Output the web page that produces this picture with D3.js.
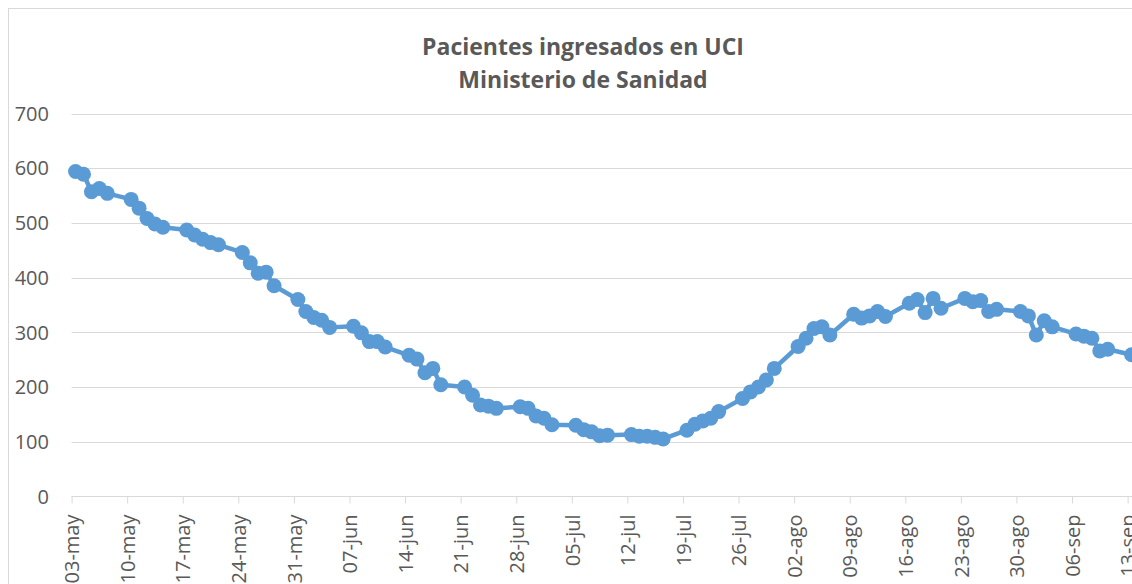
<!DOCTYPE html>
<html>
<head>
<meta charset="utf-8">
<script src="https://cdn.jsdelivr.net/npm/d3@7"></script>
<style>
  body { margin: 0; background: #fff; overflow: hidden; }
  svg { display: block; font-family: "Open Sans", sans-serif; }
  .grid line { stroke: #d9d9d9; stroke-width: 1; }
  .tlabel { fill: #595959; font-size: 20px; }
</style>
</head>
<body>
<svg id="chart" width="1132" height="584"></svg>
<script>
// fechas (2020) y pacientes en UCI
var fechas = [
  "05-03","05-04","05-05","05-06","05-07",
  "05-10","05-11","05-12","05-13","05-14",
  "05-17","05-18","05-19","05-20","05-21",
  "05-24","05-25","05-26","05-27","05-28",
  "05-31","06-01","06-02","06-03","06-04",
  "06-07","06-08","06-09","06-10","06-11",
  "06-14","06-15","06-16","06-17","06-18",
  "06-21","06-22","06-23","06-24","06-25",
  "06-28","06-29","06-30","07-01","07-02",
  "07-05","07-06","07-07","07-08","07-09",
  "07-12","07-13","07-14","07-15","07-16",
  "07-19","07-20","07-21","07-22","07-23",
  "07-26","07-27","07-28","07-29","07-30",
  "08-02","08-03","08-04","08-05","08-06",
  "08-09","08-10","08-11","08-12","08-13",
  "08-16","08-17","08-18","08-19","08-20",
  "08-23","08-24","08-25","08-26","08-27",
  "08-30","08-31","09-01","09-02","09-03",
  "09-06","09-07","09-08","09-09","09-10",
  "09-13"
];
var pacientes = [
  594, 589, 557, 563, 554,
  543, 527, 508, 498, 492,
  487, 478, 470, 464, 460,
  446, 427, 408, 410, 385,
  360, 338, 327, 322, 309,
  311, 299, 283, 283, 273,
  258, 251, 226, 234, 204,
  200, 185, 167, 165, 161,
  164, 161, 147, 143, 131,
  130, 122, 118, 111, 112,
  113, 110, 110, 108, 105,
  121, 132, 138, 143, 155,
  179, 191, 200, 213, 234,
  274, 289, 307, 310, 295,
  333, 326, 330, 338, 329,
  353, 360, 336, 362, 344,
  362, 356, 358, 338, 342,
  338, 330, 295, 321, 310,
  297, 293, 289, 266, 269,
  259
];
var ticksX = ["05-03","05-10","05-17","05-24","05-31","06-07","06-14","06-21","06-28",
  "07-05","07-12","07-19","07-26","08-02","08-09","08-16","08-23","08-30","09-06","09-13","09-20"];
var meses = { "05": "may", "06": "jun", "07": "jul", "08": "ago", "09": "sep" };
var ticksY = [0, 100, 200, 300, 400, 500, 600, 700];
var titulo = ["Pacientes ingresados en UCI", "Ministerio de Sanidad"];

var azul = "#5b9bd5";
var svg = d3.select("#chart");

function fecha(s) {
  return new Date(Date.UTC(2020, +s.slice(0, 2) - 1, +s.slice(3, 5)));
}

var x0 = 71.6, pxDia = 7.94;
var x = d3.scaleUtc()
  .domain([fecha("05-03"), fecha("09-20")])
  .range([x0, x0 + pxDia * 140]);
var y = d3.scaleLinear().domain([0, 700]).range([496.4, 113.5]);

//borde del grafico
svg.append("rect")
  .attr("x", 8.5).attr("y", 8.5)
  .attr("width", 1200).attr("height", 700)
  .attr("fill", "none").attr("stroke", "#d9d9d9");

//titulo
svg.selectAll(".titulo")
  .data(titulo)
  .enter().append("text")
  .attr("class", "titulo")
  .attr("x", 583)
  .attr("y", function(d, i) { return 55 + i * 33; })
  .attr("text-anchor", "middle")
  .attr("fill", "#595959")
  .style("font-size", "23px")
  .style("font-weight", "bold")
  .text(function(d) { return d; });

//lineas de cuadricula
svg.append("g").attr("class", "grid")
  .selectAll("line")
  .data(ticksY)
  .enter().append("line")
  .attr("x1", x0).attr("x2", 1140)
  .attr("y1", function(d) { return Math.round(y(d)) + 0.5; })
  .attr("y2", function(d) { return Math.round(y(d)) + 0.5; });

//etiquetas eje y
svg.selectAll(".ylab")
  .data(ticksY)
  .enter().append("text")
  .attr("class", "tlabel")
  .attr("x", 49)
  .attr("y", function(d) { return y(d); })
  .attr("dy", "0.36em")
  .attr("text-anchor", "end")
  .text(function(d) { return d; });

//eje x
var ejeX = d3.axisBottom(x)
  .tickValues(ticksX.map(fecha))
  .tickSize(7)
  .tickFormat(function(d) {
    var s = d3.utcFormat("%m-%d")(d);
    return s.slice(3, 5) + "-" + meses[s.slice(0, 2)];
  });

var gx = svg.append("g")
  .attr("transform", "translate(0," + (Math.round(y(0)) + 0.5) + ")")
  .call(ejeX);
gx.select(".domain").attr("stroke", "#d9d9d9").attr("d", "M" + x0 + ",0H1140");
gx.selectAll(".tick line").attr("stroke", "#d9d9d9");
gx.selectAll(".tick text")
  .attr("class", "tlabel")
  .attr("transform", "rotate(-90)")
  .attr("x", -18)
  .attr("y", 0)
  .attr("dy", "0.36em")
  .attr("text-anchor", "end")
  .style("font-family", "'Open Sans', sans-serif");

//serie
var puntos = fechas.map(function(f, i) {
  return { t: new Date(fecha(f).getTime() + 12 * 3600 * 1000), v: pacientes[i] };
});

var linea = d3.line()
  .x(function(d) { return x(d.t); })
  .y(function(d) { return y(d.v); });

svg.append("path")
  .datum(puntos)
  .attr("d", linea)
  .attr("fill", "none")
  .attr("stroke", azul)
  .attr("stroke-width", 4.5)
  .attr("stroke-linejoin", "round");

svg.selectAll(".punto")
  .data(puntos)
  .enter().append("circle")
  .attr("class", "punto")
  .attr("cx", function(d) { return x(d.t); })
  .attr("cy", function(d) { return y(d.v); })
  .attr("r", 7.5)
  .attr("fill", azul);
</script>
</body>
</html>
